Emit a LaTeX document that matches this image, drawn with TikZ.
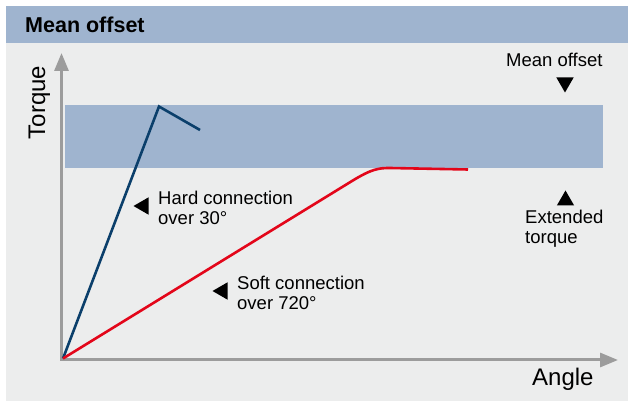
\documentclass[tikz,border=0pt]{standalone}
\usepackage{fontspec}
\setmainfont{Liberation Sans}
\usetikzlibrary{arrows.meta}
\usetikzlibrary{shapes.geometric}
\definecolor{panelgray}{HTML}{ECEDED}
\definecolor{bandblue}{HTML}{9FB4CF}
\definecolor{axisgray}{HTML}{9C9C9C}
\definecolor{hardblue}{HTML}{0B3F6B}
\definecolor{softred}{HTML}{E3061A}
\tikzset{
   axis/.style={draw=axisgray, line width=3pt, line join=miter,
      {Triangle[width=14pt,length=18pt]}-{Triangle[width=14pt,length=18pt]}},
   hard/.style={draw=hardblue, line width=2.6pt, line join=miter},
   soft/.style={draw=softred, line width=2.6pt, line join=round},
   marker/.style={regular polygon, regular polygon sides=3, fill=black,
      inner sep=0pt, minimum size=20pt},
   note/.style={font=\fontsize{18.5}{20.5}\selectfont, align=left,
      inner sep=0pt, anchor=base west},
   axislabel/.style={font=\fontsize{24}{28}\selectfont, inner sep=0pt},
    }

\begin{document}
\begin{tikzpicture}[x=1pt, y=-1pt]
        \useasboundingbox (0,0) rectangle (632,403);
        % panel and header
        \fill[panelgray] (6,6) rectangle (628,401);
        \fill[bandblue] (6,6) rectangle (628,43);
        \node[anchor=base west, inner sep=0pt,
            font=\fontsize{21.5}{24}\selectfont\bfseries] (title) at (25,33) {Mean offset};
        % mean offset band
        \fill[bandblue] (65,105) rectangle (603,168);
        % axes
        \coordinate (ytip) at (61.5,53);
        \coordinate (xtip) at (618,360);
        \draw[axis] (ytip) |- (xtip);
        \node[axislabel, rotate=90, anchor=base] (torque) at (45,102.5) {Torque};
        \node[axislabel, anchor=base west] (angle) at (532,385) {Angle};
        % curves
        \coordinate (o) at (63,358.5);
        \coordinate (hardpeak) at (159,106.5);
        \coordinate (hardend) at (200,130);
        \coordinate (softbend) at (352,181);
        \coordinate (softtop) at (390,168);
        \coordinate (softend) at (468,169.5);
        \draw[hard] (o) -- (hardpeak) -- (hardend);
        \draw[soft] (o) -- (softbend) .. controls (372,168.7) and (379,168) .. (softtop) -- (softend);
        % labels (base = last line)
        \node[marker, rotate=90] (hardmark) at (143.5,206) {};
        \node[note] (hardtxt) at (158,225) {Hard connection\\over 30°};
        \node[marker, rotate=90] (softmark) at (222.5,291) {};
        \node[note] (softtxt) at (237,310) {Soft connection\\over 720°};
        \node[note] (offsettxt) at (506,67) {Mean offset};
        \node[marker, rotate=180] (offsetmark) at (565,82.5) {};
        \node[marker] (torquemark) at (565.5,200.5) {};
        \node[note] (torquetxt) at (525,244) {Extended\\torque};
    \end{tikzpicture}
\end{document}
